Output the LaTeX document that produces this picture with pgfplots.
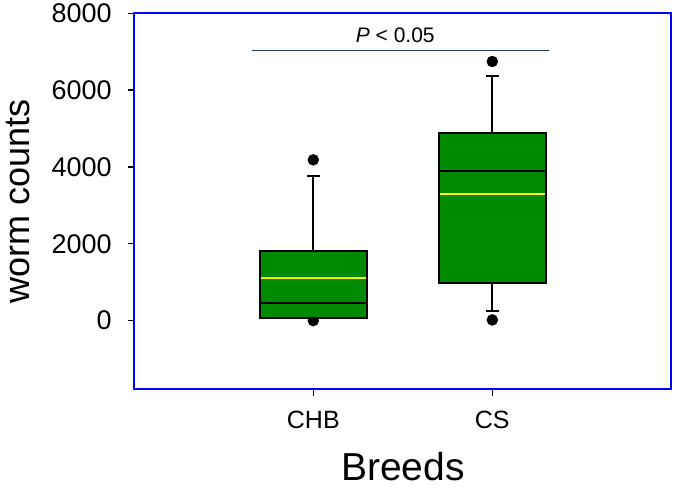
\documentclass[border=0pt]{standalone}
\usepackage{pgfplots}
\pgfplotsset{compat=1.18}
\usepackage{fontspec}
\setmainfont{Liberation Sans}
\definecolor{boxgreen}{RGB}{0,138,0}
\definecolor{axblue}{RGB}{0,0,255}
\definecolor{navyline}{RGB}{31,56,100}
\definecolor{meanyellow}{RGB}{255,255,0}
\begin{document}
\begin{tikzpicture}
\begin{axis}[
 set layers,
 width=537pt, height=375.7pt, scale only axis,
 xmin=0, xmax=3, ymin=-1780, ymax=8000,
 axis line style={axblue, line width=2pt},
 xtick={1,2}, xticklabels={CHB,CS},
 ytick={0,2000,4000,6000,8000},
 xtick pos=bottom, ytick pos=left, tick align=outside,
 major tick length=6.5pt,
 tick style={black, line width=1.3pt},
 /pgf/number format/assume math mode=true,
 /pgf/number format/set thousands separator={},
 yticklabel style={font=\fontsize{27}{27}\selectfont, xshift=-12.5pt},
 xticklabel style={font=\fontsize{25}{25}\selectfont, anchor=base, yshift=-33pt},
 every axis y label/.style={at={(axis description cs:-0.195,0.5)}, rotate=90, anchor=base, inner sep=0pt, font=\fontsize{36}{36}\selectfont},
 every axis x label/.style={at={(axis description cs:0.5,-0.243)}, anchor=base, inner sep=0pt, font=\fontsize{39}{39}\selectfont},
 ylabel={worm counts}, xlabel={Breeds},
 clip marker paths=true,
]
% outliers (drawn underneath the boxes)
\addplot[on layer=axis background, mark layer=axis background, only marks, mark=*, mark size=5.5pt, black] coordinates {(1,4185) (1,0) (2,6745) (2,18)};
% whiskers
\addplot[black, line width=2pt] coordinates {(1,1823) (1,3776)};
\addplot[black, line width=2pt] coordinates {(0.963,3776) (1.037,3776)};
\addplot[black, line width=2pt] coordinates {(2,4880) (2,6372)};
\addplot[black, line width=2pt] coordinates {(1.963,6372) (2.037,6372)};
\addplot[black, line width=2pt] coordinates {(2,974) (2,253)};
\addplot[black, line width=2pt] coordinates {(1.963,253) (2.037,253)};
% boxes
\addplot[fill=boxgreen, draw=black, line width=2pt] coordinates {(0.7,78) (1.3,78) (1.3,1823) (0.7,1823)} -- cycle;
\addplot[fill=boxgreen, draw=black, line width=2pt] coordinates {(1.7,974) (2.3,974) (2.3,4880) (1.7,4880)} -- cycle;
% medians
\addplot[black, line width=2pt] coordinates {(0.7,453) (1.3,453)};
\addplot[black, line width=2pt] coordinates {(1.7,3906) (2.3,3906)};
% means
\addplot[meanyellow, line width=2pt] coordinates {(0.706,1120) (1.294,1120)};
\addplot[meanyellow, line width=2pt] coordinates {(1.706,3292) (2.294,3292)};
% significance
\addplot[navyline, line width=1.8pt] coordinates {(0.655,7030) (2.315,7030)};
\node[anchor=base, font=\fontsize{21}{21}\selectfont] at (axis cs:1.458,7230) {\textit{P} < 0.05};
\end{axis}
\pgfresetboundingbox
\path[use as bounding box] ([xshift=-134.3pt,yshift=-99pt]current axis.south west) rectangle ([xshift=3.7pt,yshift=13.3pt]current axis.north east);
\end{tikzpicture}
\end{document}
